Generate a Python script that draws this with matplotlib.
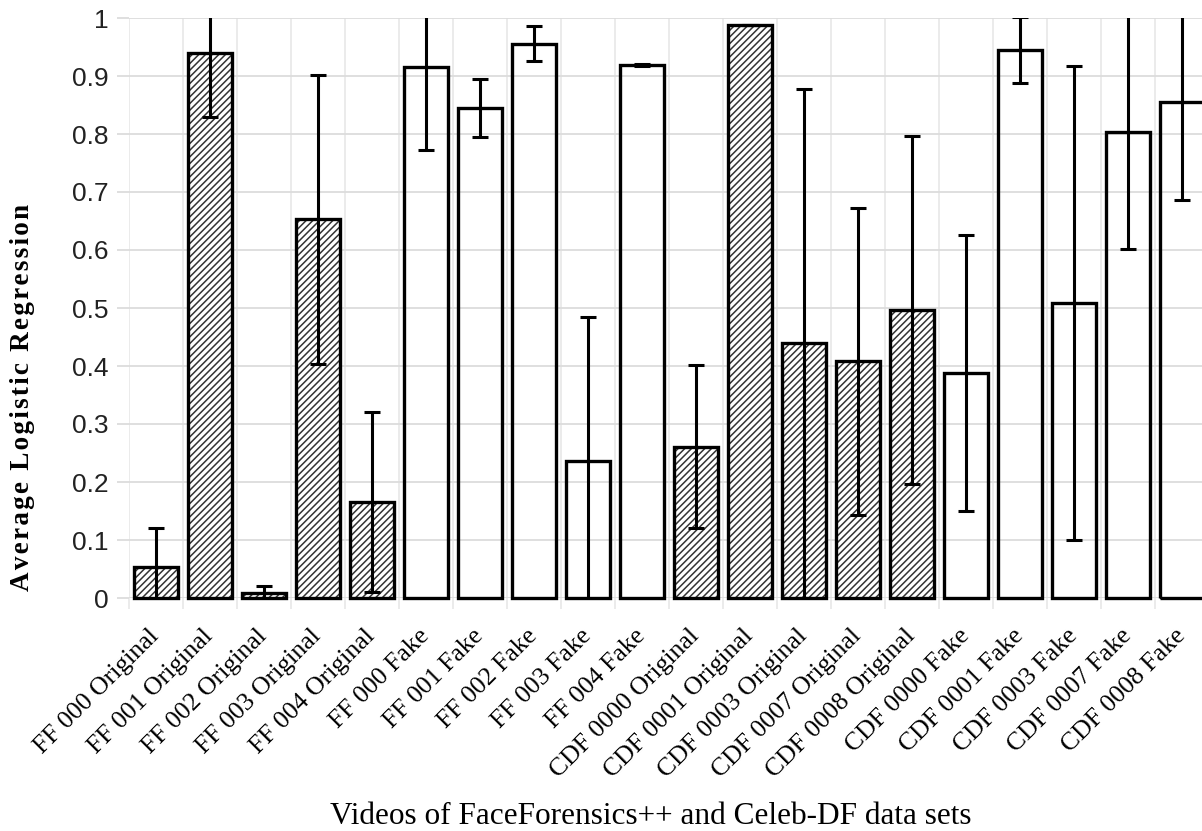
import numpy as np
import matplotlib
matplotlib.use("Agg")
import matplotlib.pyplot as plt

labels = ["FF 000 Original", "FF 001 Original", "FF 002 Original", "FF 003 Original",
          "FF 004 Original", "FF 000 Fake", "FF 001 Fake", "FF 002 Fake", "FF 003 Fake",
          "FF 004 Fake", "CDF 0000 Original", "CDF 0001 Original", "CDF 0003 Original",
          "CDF 0007 Original", "CDF 0008 Original", "CDF 0000 Fake", "CDF 0001 Fake",
          "CDF 0003 Fake", "CDF 0007 Fake", "CDF 0008 Fake"]
means = [0.053, 0.940, 0.008, 0.653, 0.166, 0.915, 0.845, 0.956, 0.237, 0.919,
         0.261, 0.988, 0.439, 0.408, 0.497, 0.388, 0.945, 0.509, 0.804, 0.855]
errs = [0.068, 0.110, 0.012, 0.249, 0.155, 0.142, 0.050, 0.030, 0.248, 0.002,
        0.141, 0.000, 0.439, 0.265, 0.300, 0.238, 0.057, 0.409, 0.202, 0.168]
original = [("Original" in s) for s in labels]

fig = plt.figure(figsize=(12.02, 8.31), dpi=100)
ax = fig.add_axes([129 / 1202, 1 - 598 / 831, 1080 / 1202, 580 / 831])

x = np.arange(len(labels))
hatched = [m if o else 0 for m, o in zip(means, original)]

plt.rcParams["hatch.linewidth"] = 1.1
# hatch fill (gray lines) then black outline on top
ax.bar(x, hatched, width=0.8, color="white", edgecolor="#333333", hatch="/////",
       linewidth=0, zorder=2, clip_on=False)
ax.bar(x, means, width=0.8, facecolor="none", edgecolor="black", linewidth=2.4,
       zorder=3, clip_on=False)
ax.errorbar(x, means, yerr=errs, fmt="none", ecolor="black", elinewidth=2.2,
            capsize=6, capthick=2.2, zorder=4)

ax.set_xlim(-0.5, len(labels) - 0.5)
ax.set_ylim(0, 1)
ax.set_yticks(np.arange(0, 1.01, 0.1))
ax.set_yticklabels(["0", "0.1", "0.2", "0.3", "0.4", "0.5", "0.6", "0.7", "0.8", "0.9", "1"],
                   family="Liberation Sans", fontsize=19, color="#222222")
ax.set_xticks(x)
ax.set_xticklabels(labels, rotation=45, ha="right", va="center", rotation_mode="anchor",
                   family="Liberation Serif", fontsize=18.5)
ax.set_xticks(np.arange(-0.5, len(labels), 1), minor=True)

for s in ax.spines.values():
    s.set_visible(False)
ax.grid(axis="y", color="#dcdcdc", linewidth=1.3, zorder=0)
ax.grid(axis="x", which="minor", color="#e8e8e8", linewidth=1.2, zorder=0)
ax.tick_params(axis="y", length=9, width=1.3, color="#dcdcdc", pad=6)
ax.tick_params(axis="x", which="major", length=0, pad=25)
ax.tick_params(axis="x", which="minor", length=8, width=1.2, color="#e8e8e8")

ylab = "\u200a".join("Average Logistic Regression")
ax.set_ylabel(ylab, family=["Liberation Serif", "DejaVu Serif"],
              fontweight="bold", fontsize=19.5)
ax.yaxis.set_label_coords(-0.087, 0.345)
ax.set_xlabel("Videos of FaceForensics++ and Celeb-DF data sets",
              family="Liberation Serif", fontsize=22.5)
ax.xaxis.set_label_coords(0.483, -0.352)

fig.savefig("out.png", dpi=100)
